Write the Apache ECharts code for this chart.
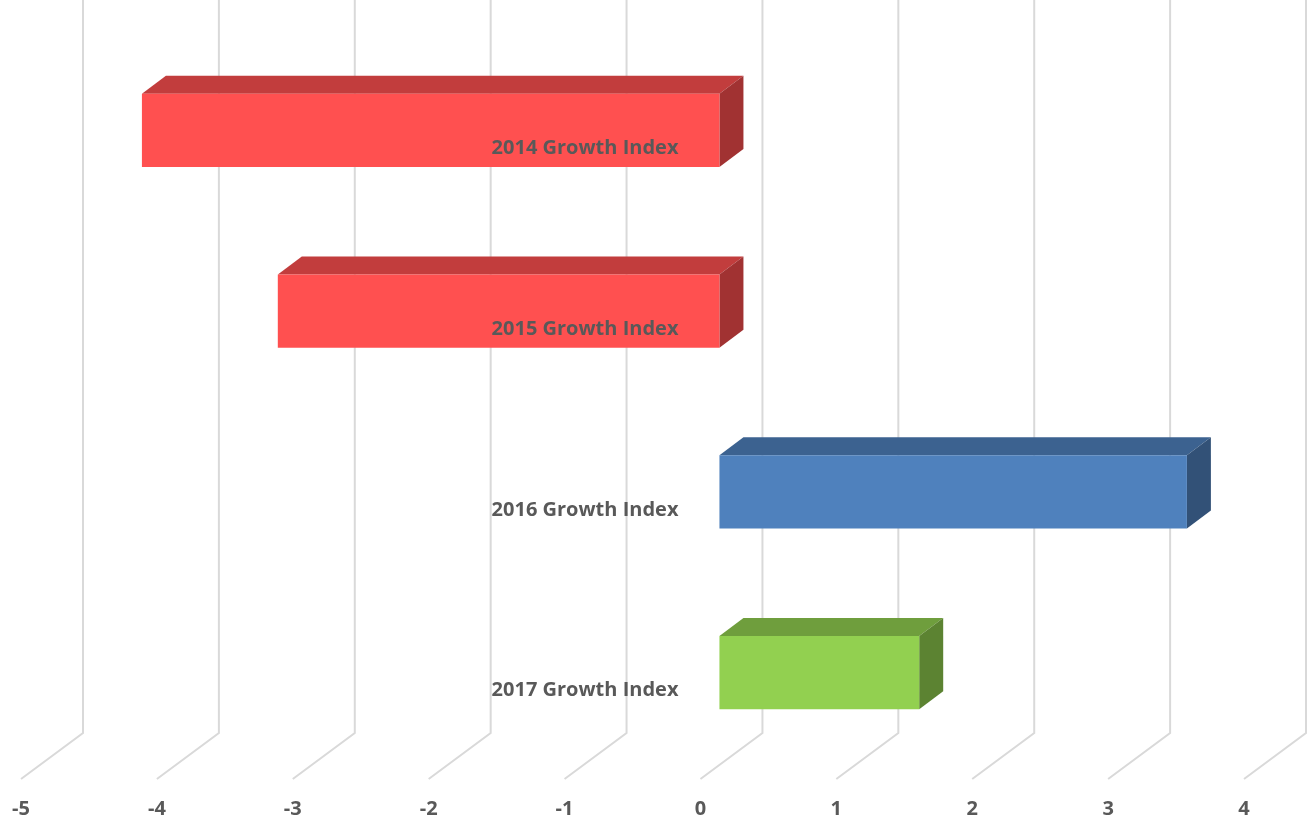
<!DOCTYPE html>
<html>
<head>
<meta charset="utf-8">
<script src="https://cdn.jsdelivr.net/npm/echarts@6/dist/echarts.min.js"></script>
<style>
  html, body { margin: 0; padding: 0; background: #fff; }
  #chart { width: 1312px; height: 822px; }
</style>
</head>
<body>
<div id="chart"></div>
<script>
const categories = ["2014 Growth Index", "2015 Growth Index", "2016 Growth Index", "2017 Growth Index"];
const growthValues = [-4.25, -3.25, 3.44, 1.47];
const barColors = ["#FF5050", "#FF5050", "#4F81BD", "#92D050"];
const tickValues = [-5, -4, -3, -2, -1, 0, 1, 2, 3, 4];

// fake 3D projection (pixels)
const FLOOR_DX = 62, FLOOR_DY = -46;   // front edge -> back wall
const FACE_DX = 19, FACE_DY = -16;     // front edge -> bar front face
const DEPTH_DX = 24, DEPTH_DY = -18;   // bar depth

const labelFont = { color: "#595959", fontWeight: "bold", fontSize: 20, fontFamily: "Open Sans" };

function shade(hex, k) {
  const n = parseInt(hex.slice(1), 16);
  const r = Math.round(((n >> 16) & 255) * k);
  const g = Math.round(((n >> 8) & 255) * k);
  const b = Math.round((n & 255) * k);
  return "rgb(" + r + "," + g + "," + b + ")";
}

const chart = echarts.init(document.getElementById("chart"));

const options = {
  animation: false,
  grid: { left: 21, right: 68, top: 56, bottom: 43, containLabel: false, outerBoundsMode: "none" },
  xAxis: {
    type: "value",
    min: -5,
    max: 4,
    interval: 1,
    axisLine: { show: false },
    axisTick: { show: false },
    splitLine: { show: false },
    axisLabel: Object.assign({ margin: 20 }, labelFont),
  },
  yAxis: {
    type: "category",
    data: categories,
    inverse: true,
    axisLine: { show: false },
    axisTick: { show: false },
    splitLine: { show: false },
    axisLabel: { show: false },
  },
  series: [
    {
      // gridlines: floor diagonal + back wall vertical
      type: "custom",
      z: 1,
      silent: true,
      data: tickValues.map((v) => [v, 0]),
      encode: { x: 0, y: 1 },
      renderItem: (params, api) => {
        const x = api.coord([api.value(0), 0])[0];
        const cs = params.coordSys;
        const yb = cs.y + cs.height;
        return {
          type: "polyline",
          shape: { points: [[x, yb], [x + FLOOR_DX, yb + FLOOR_DY], [x + FLOOR_DX, 0]] },
          style: { stroke: "#d9d9d9", lineWidth: 2, fill: null },
        };
      },
    },
    {
      type: "custom",
      z: 2,
      data: growthValues.map((v, i) => [v, i]),
      encode: { x: 0, y: 1 },
      renderItem: (params, api) => {
        const v = api.value(0);
        const i = api.value(1);
        const p0 = api.coord([0, i]);
        const p1 = api.coord([v, i]);
        const h = api.size([0, 1])[1] * 0.405;
        const x0 = Math.min(p0[0], p1[0]) + FACE_DX;
        const x1 = Math.max(p0[0], p1[0]) + FACE_DX;
        const y0 = p0[1] - h / 2 + FACE_DY;
        const y1 = y0 + h;
        const color = barColors[params.dataIndex];
        return {
          type: "group",
          children: [
            {
              type: "polygon",
              shape: { points: [[x0, y0], [x1, y0], [x1 + DEPTH_DX, y0 + DEPTH_DY], [x0 + DEPTH_DX, y0 + DEPTH_DY]] },
              style: { fill: shade(color, 0.76) },
            },
            {
              type: "polygon",
              shape: { points: [[x1, y0], [x1 + DEPTH_DX, y0 + DEPTH_DY], [x1 + DEPTH_DX, y1 + DEPTH_DY], [x1, y1]] },
              style: { fill: shade(color, 0.63) },
            },
            {
              type: "rect",
              shape: { x: x0, y: y0, width: x1 - x0, height: h },
              style: { fill: color },
            },
            {
              // category label sits on the front plane, left of zero
              type: "text",
              z2: 10,
              style: {
                x: p0[0] - 22,
                y: p0[1] + 2,
                text: categories[i],
                align: "right",
                verticalAlign: "middle",
                fill: labelFont.color,
                font: "bold 20px 'Open Sans'",
              },
            },
          ],
        };
      },
    },
  ],
};

chart.setOption(options);
</script>
</body>
</html>
